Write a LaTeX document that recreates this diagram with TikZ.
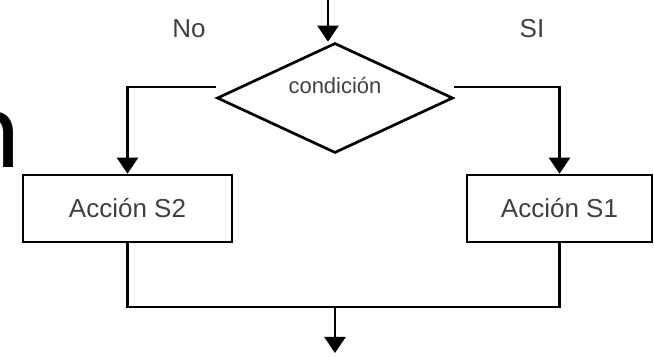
\documentclass[tikz,border=0pt]{standalone}
\usepackage{fontspec}
\setmainfont{Liberation Sans}
\newfontfamily\bigfont{Carlito}
\usetikzlibrary{arrows.meta,shapes.geometric}

\tikzset{
  txt/.style={text=black!75, inner sep=0pt},
  accion/.style={draw, line width=1.25pt, minimum height=33.5pt, inner sep=0pt,
    font=\fontsize{13}{15}\selectfont, text=black!75},
  cond/.style={draw, diamond, aspect=2.15, line width=1.35pt, minimum width=118pt, minimum height=55pt,
    inner sep=0pt, text height=8pt, text depth=12pt, font=\fontsize{11}{13}\selectfont, text=black!75},
  flow/.style={line width=1.1pt, -{Triangle[width=10.5pt,length=8pt]}},
  line/.style={line width=1.25pt}
}

\begin{document}
\begin{tikzpicture}[x=0.5pt,y=-0.5pt]
\useasboundingbox (0,0) rectangle (654,357);

% fragment of page text
\node[anchor=base east, inner sep=0pt, font=\bigfont\fontsize{57}{57}\selectfont] (frag) at (21,168) {n};

% labels
\node[txt, font=\fontsize{13}{15}\selectfont] (no) at (189,29) {No};
\node[txt, font=\fontsize{13}{15}\selectfont] (si) at (532,29) {SI};

% condition
\node[cond] (d) at (335,98) {condición};

% actions
\node[accion, minimum width=104.5pt] (s2) at (127.5,208.5) {Acción S2};
\node[accion, minimum width=92.5pt] (s1) at (559.5,208.5) {Acción S1};

\coordinate (in) at (328,0);
\coordinate (j) at (335,307);
\coordinate (out) at (335,353);

% connectors
\draw[flow] (in) -- (in |- d.north);
\draw[flow] ([yshift=5.5pt]d.west) -| (s2.north);
\draw[flow] ([yshift=5.5pt]d.east) -| (s1.north);
\draw[line] (s2.south) |- (j) -| (s1.south);
\draw[flow] (j) -- (out);
\end{tikzpicture}
\end{document}
